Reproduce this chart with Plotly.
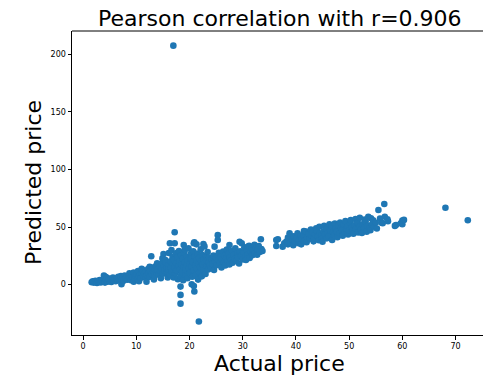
import plotly.graph_objects as go

# Actual vs. predicted prices, grouped by price band
actual_low = [1.6, 1.8, 2.0, 2.1, 2.3, 2.5, 2.6, 2.8, 3.0, 3.1, 3.3, 3.5, 3.6, 3.8, 3.9, 4.0,
              4.1, 4.2, 4.3, 4.5, 4.6, 4.8, 5.0, 5.1, 5.3, 5.5, 5.6, 5.8, 6.0, 6.1, 6.3, 6.5,
              6.6, 6.8, 7.0, 7.1, 7.2, 7.3, 7.5, 7.6, 7.8, 8.0, 8.1]
predicted_low = [2.1, 3.0, 1.8, 2.6, 3.4, 2.2, 1.5, 3.1, 2.7, 4.0, 1.9, 3.3, 2.5, 4.2, 7.8, 3.0,
                 1.8, 6.9, 3.8, 5.9, 2.6, 4.4, 3.2, 5.0, 2.4, 4.1, 6.2, 3.5, 4.8, 2.9, 5.5, 4.0,
                 6.8, 3.6, 5.2, 7.4, 0.4, 4.5, 6.0, 3.3, 8.0, 5.5, 6.9]

actual_mid = [8.3, 8.5, 8.7, 8.8, 9.0, 9.2, 9.3, 9.5, 9.5, 9.7, 9.8, 10.0, 10.2, 10.3, 10.5,
              10.5, 10.7, 10.8, 11.0, 11.0, 11.2, 11.3, 11.5, 11.7, 11.8, 11.9, 12.0, 12.2,
              12.3, 12.5, 12.5, 12.6, 12.8, 12.9, 13.0, 13.2, 13.3, 13.4, 13.5, 13.7, 13.8,
              13.9, 14.0, 14.2, 14.3, 14.5, 14.6, 14.7, 14.8, 14.9, 15.0, 15.1, 15.2, 15.3,
              15.4, 15.5, 15.7, 15.8, 15.9, 16.0, 16.0, 16.1]
predicted_mid = [4.2, 7.6, 9.8, 5.8, 3.9, 8.3, 6.4, 10.5, 2.5, 5.0, 7.9, 9.1, 4.6, 11.8, 7.2,
                 3.0, 8.9, 5.7, 10.2, 13.8, 12.6, 7.5, 9.6, 6.3, 11.1, 2.6, 8.4, 13.5,
                 10.0, 6.8, 15.6, 12.0, 24.7, 9.2, 14.8, 11.4, 4.5, 7.9, 13.0, 16.2, 10.3,
                 18.5, 12.6, 8.7, 15.1, 11.8, 5.6, 18.0, 13.7, 22.8, 9.5, 26.6, 16.4, 12.2,
                 21.5, 19.5, 14.3, 10.8, 6.3, 17.1, 13.2, 27.5]

actual_core = [16.3, 16.3, 16.4, 16.5, 16.6, 16.7, 16.8, 16.9, 16.95, 17.0, 17.1, 17.2, 17.2,
               17.2, 17.3, 17.4, 17.5, 17.6, 17.7, 17.8, 17.9, 18.0, 18.1, 18.2, 18.3, 18.3,
               18.3, 18.3, 18.4, 18.5, 18.6, 18.7, 18.8, 18.9, 18.9, 19.0, 19.1, 19.1, 19.2,
               19.3, 19.4, 19.5, 19.6, 19.7, 19.8, 19.9, 20.0, 20.1, 20.2, 20.3, 20.4, 20.4,
               20.5, 20.6, 20.7, 20.8, 20.8, 20.8, 20.9, 20.9, 21.0, 21.1, 21.2, 21.3, 21.3,
               21.4, 21.5, 21.6, 21.7, 21.75, 21.8, 21.9, 22.0, 22.1, 22.2, 22.3, 22.4, 22.5,
               22.6, 22.6, 22.7, 22.8, 22.9, 23.0, 23.1, 23.2, 23.3, 23.4, 23.5, 23.6, 23.7,
               23.8]
predicted_core = [8.5, 36.0, 20.3, 14.6, 30.0, 11.2, 24.1, 17.8, 207.5, 6.2, 21.5, 15.0, 45.5,
                  36.0, 9.8, 27.3, 18.6, 12.4, 23.7, 4.8, 16.1, 29.2, 20.0, 13.3, 7.6, -1.7,
                  -8.9, -16.5, 25.5, 17.2, 10.9, 22.4, 3.9, 34.4, 15.3, 27.9, 30.2, 19.1, 8.7,
                  12.8, 24.0, 16.8, 5.5, 21.2, 31.5, 14.1, 18.4, 10.2, 26.6, 22.8, 0.3, 15.7,
                  6.9, 19.6, 29.0, 12.0, 36.0, -1.1, 36.8, -6.0, 24.4, 17.3, 8.1, 35.0, 20.9,
                  13.9, 27.0, 4.4, 18.2, -32.0, 23.1, 10.6, 15.4, 30.8, 20.2, 7.2, 25.8, 17.6,
                  12.5, 35.3, 22.0, 33.2, 18.9, 9.3, 24.7, 15.9, 20.6, 28.4, 13.1, 19.4, 23.5,
                  16.3]

actual_upper = [24.0, 24.2, 24.3, 24.5, 24.6, 24.7, 24.8, 25.0, 25.1, 25.3, 25.3, 25.4, 25.5,
                25.7, 25.8, 26.0, 26.1, 26.3, 26.4, 26.6, 26.7, 26.9, 27.0, 27.2, 27.3, 27.5,
                27.5, 27.6, 27.8, 28.0, 28.1, 28.3, 28.5, 28.6, 28.8, 29.0, 29.1, 29.3, 29.4,
                29.5, 29.7, 29.8, 30.0, 30.2, 30.3, 30.5, 30.6, 30.8, 31.0, 31.0, 31.2, 31.3,
                31.5, 31.7, 31.8, 32.0, 32.2, 32.3, 32.5, 32.7, 32.8, 33.0, 33.2, 33.4, 33.5,
                33.7]
predicted_upper = [14.5, 21.8, 18.0, 25.3, 12.7, 33.0, 19.9, 23.4, 16.8, 43.0, 38.8, 21.1, 27.6,
                   18.5, 24.2, 14.9, 21.9, 28.8, 19.2, 25.1, 16.6, 22.7, 30.5, 20.4, 26.8, 17.5,
                   34.4, 23.6, 21.2, 29.4, 19.0, 25.7, 22.3, 31.6, 20.8, 27.2, 23.9, 18.4, 37.3,
                   29.0, 25.0, 36.0, 21.8, 28.1, 32.5, 24.6, 21.4, 30.0, 26.4, 33.0, 33.8, 23.2,
                   28.7, 31.2, 25.5, 29.8, 34.6, 27.1, 31.9, 26.0, 30.6, 33.5, 28.3, 39.4, 31.0,
                   29.2]

actual_high = [36.3, 36.3, 36.6, 37.5, 37.8, 38.2, 38.5, 38.5, 38.8, 39.0, 39.3, 39.5, 39.6,
               39.8, 40.1, 40.3, 40.5, 40.6, 40.9, 41.0, 41.1, 41.4, 41.5, 41.6, 41.9, 42.0,
               42.1, 42.4, 42.6, 42.8, 42.9, 43.1, 43.3, 43.4, 43.6, 43.8, 43.9, 44.1, 44.3,
               44.4, 44.5, 44.8, 44.9, 45.0, 45.2, 45.3, 45.5, 45.7, 45.8, 46.0, 46.2, 46.3,
               46.5, 46.7, 46.8, 47.0, 47.2, 47.3, 47.5, 47.7, 47.8, 48.0, 48.2, 48.3, 48.5,
               48.7, 48.8, 49.0, 49.2, 49.3, 49.5, 49.7, 49.8, 50.0, 50.2, 50.3, 50.5, 50.7,
               50.8, 51.0, 51.2, 51.3, 51.6, 51.7, 51.9, 52.0, 52.2, 52.4, 52.5, 52.8, 52.9,
               53.1, 53.3, 53.4, 53.6, 53.8, 54.0, 54.1, 54.3, 54.5, 54.7, 55.0, 55.2, 55.5,
               55.8, 56.1, 56.3, 56.6, 56.7, 57.2, 57.3, 58.6, 58.8, 59.7, 60.0, 60.0, 60.3,
               68.1, 72.3]
predicted_high = [38.8, 33.6, 39.4, 33.0, 35.8, 37.4, 40.8, 35.0, 44.6, 36.2, 39.0, 34.2, 41.9,
                  37.5, 40.3, 44.6, 36.0, 38.8, 42.5, 35.0, 39.6, 43.3, 46.5, 37.9, 46.0, 36.8,
                  41.0, 44.2, 39.8, 47.8, 42.7, 45.4, 37.6, 40.6, 43.8, 49.0, 47.2, 41.9, 38.5,
                  50.3, 44.6, 42.8, 39.8, 37.3, 46.1, 51.0, 43.5, 48.4, 40.2, 44.9, 42.1, 52.4,
                  47.0, 50.6, 38.8, 45.6, 43.3, 53.0, 48.8, 46.2, 41.2, 51.9, 44.6, 54.0, 49.2,
                  47.0, 42.4, 52.5, 45.5, 55.3, 48.3, 50.7, 43.5, 46.9, 53.4, 56.0, 49.6, 47.4,
                  44.2, 51.6, 57.0, 48.5, 53.9, 45.3, 50.2, 58.0, 47.8, 44.8, 52.3, 49.4, 56.5,
                  54.6, 46.0, 51.0, 58.8, 48.9, 47.2, 57.6, 52.5, 55.8, 50.3, 53.8, 48.7, 64.8,
                  57.3, 53.8, 53.3, 70.0, 59.0, 56.8, 55.0, 51.0, 51.8, 53.3, 55.6, 52.5, 56.2,
                  66.8, 55.9]

actual = actual_low + actual_mid + actual_core + actual_upper + actual_high
predicted = predicted_low + predicted_mid + predicted_core + predicted_upper + predicted_high

x_ticks = [0, 10, 20, 30, 40, 50, 60, 70]
y_ticks = [0, 50, 100, 150, 200]
title_text = "Pearson correlation with r=0.906"

FONT = "DejaVu Sans"
BLUE = "#1f77b4"

fig = go.Figure(
    go.Scatter(
        x=actual, y=predicted, mode="markers",
        marker=dict(color=BLUE, size=6.6, line=dict(width=0)),
        hoverinfo="x+y",
    )
)

axis_common = dict(
    showgrid=False, zeroline=False, showline=True, linecolor="black", linewidth=1,
    ticks="outside", ticklen=3.5, tickwidth=1, tickcolor="black",
    tickfont=dict(family=FONT, size=8, color="black"),
)

fig.update_layout(
    width=483, height=379,
    margin=dict(l=72, r=0, t=31, b=44),
    plot_bgcolor="white", paper_bgcolor="white",
    showlegend=False,
    xaxis=dict(range=[-2.1, 75.16], tickvals=x_ticks, **axis_common),
    yaxis=dict(range=[-43.7, 220.2], tickvals=y_ticks, **axis_common),
    shapes=[dict(type="line", xref="paper", yref="paper", x0=0, x1=1, y0=1, y1=1,
                 line=dict(color="black", width=1))],
    annotations=[
        dict(text=title_text, xref="paper", yref="paper", x=0.506, y=1,
             xanchor="center", yanchor="bottom", yshift=-2, showarrow=False,
             font=dict(family=FONT, size=22, color="black")),
        dict(text="Actual price", xref="paper", yref="paper", x=0.506, y=0,
             xanchor="center", yanchor="top", yshift=-14, showarrow=False,
             font=dict(family=FONT, size=22, color="black")),
        dict(text="Predicted price", xref="paper", yref="paper", x=0, y=0.5,
             xanchor="center", yanchor="middle", xshift=-39, textangle=-90,
             showarrow=False, font=dict(family=FONT, size=22, color="black")),
    ],
)

fig.write_html("out.html")
